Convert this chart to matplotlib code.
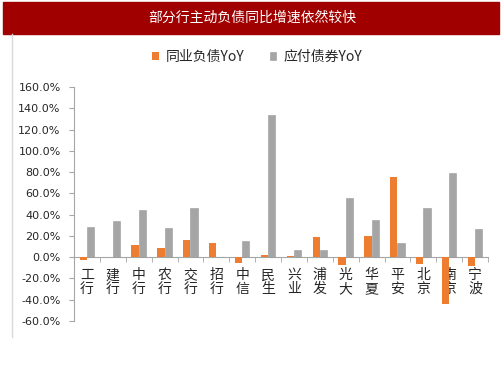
import numpy as np
import matplotlib.pyplot as plt
from matplotlib.lines import Line2D
from matplotlib.patches import Rectangle

plt.rcParams['font.family'] = ['Noto Sans CJK SC', 'DejaVu Sans']

# ─── Data ─────────────────────────────────────────────────────────────────────
banks = ['工行', '建行', '中行', '农行', '交行', '招行', '中信', '民生',
         '兴业', '浦发', '光大', '华夏', '平安', '北京', '南京', '宁波']
interbank_yoy = [-2.5, 0.0, 11.0, 8.8, 16.3, 12.9, -5.6, 2.2,
                 1.0, 18.8, -7.2, 19.7, 75.2, -6.3, -43.9, -8.2]
bonds_yoy = [28.8, 33.9, 44.5, 27.6, 45.8, 0.0, 15.0, 134.0,
             6.3, 6.3, 55.5, 34.5, 13.5, 46.0, 78.7, 26.3]
yticks = [-60, -40, -20, 0, 20, 40, 60, 80, 100, 120, 140, 160]

ORANGE = '#ED7D31'
GRAY = '#A5A5A5'
AXIS = '#A6A6A6'
TEXT = '#262626'

# ─── Figure ───────────────────────────────────────────────────────────────────
fig = plt.figure(figsize=(5.03, 3.78), dpi=100)

# red title bar
fig.patches.append(Rectangle((3 / 503, 1 - 34 / 378), 496 / 503, 32 / 378,
                             transform=fig.transFigure, color='#A00000', zorder=0))
fig.text(252 / 503, 1 - 18 / 378, '部分行主动负债同比增速依然较快',
         color='white', fontsize=10, ha='center', va='center')
# left border line
fig.lines.append(Line2D([12 / 503, 12 / 503], [1 - 34 / 378, 1 - 337 / 378],
                        transform=fig.transFigure, color='#D9D9D9', lw=1))

ax = fig.add_axes([74 / 503, 1 - 321 / 378, 414 / 503, 234 / 378])

x = np.arange(len(banks))
w = 0.28
ax.bar(x - w / 2, interbank_yoy, w, color=ORANGE, label='同业负债YoY', zorder=3)
ax.bar(x + w / 2, bonds_yoy, w, color=GRAY, edgecolor='#9A9A9A', lw=0.4,
       label='应付债券YoY', zorder=3)

ax.set_xlim(-0.5, len(banks) - 0.5)
ax.set_ylim(-60, 160)
ax.set_yticks(yticks)
ax.set_yticklabels([f'{v:.1f}%' for v in yticks], fontsize=8, color=TEXT,
                   family=['DejaVu Sans'])
ax.tick_params(axis='y', length=3.6, color=AXIS, pad=6)

# category axis sits at zero
for s in ['top', 'right']:
    ax.spines[s].set_visible(False)
ax.spines['left'].set_color(AXIS)
ax.spines['bottom'].set_position(('data', 0))
ax.spines['bottom'].set_color(AXIS)
ax.set_xticks(x)
ax.set_xticklabels(['\n'.join(b) for b in banks], fontsize=10, color=TEXT,
                   linespacing=0.95)
ax.tick_params(axis='x', which='major', length=0, pad=8)
ax.set_xticks(np.arange(len(banks) + 1) - 0.5, minor=True)
ax.tick_params(axis='x', which='minor', length=3.6, color=AXIS, direction='out')

fig.legend(loc='center', bbox_to_anchor=(257 / 503, 1 - 57 / 378), ncol=2,
           frameon=False, fontsize=10, handlelength=0.5, handleheight=0.5,
           columnspacing=1.8, handletextpad=0.5, labelcolor=TEXT)

plt.savefig('out.png', dpi=100)
